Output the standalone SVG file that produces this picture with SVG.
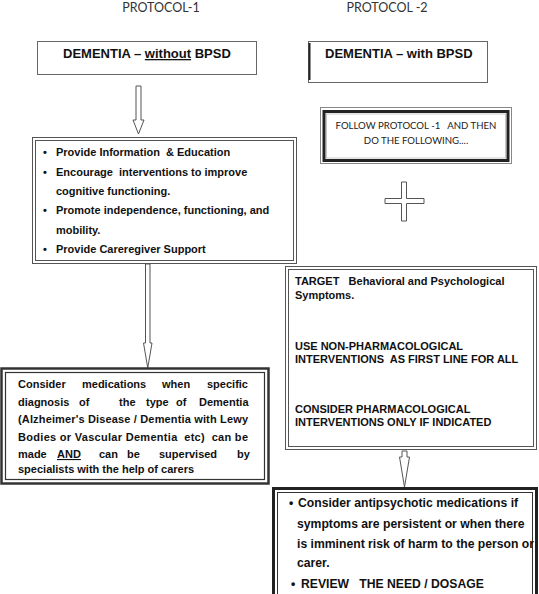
<svg xmlns="http://www.w3.org/2000/svg" width="539" height="594" viewBox="0 0 539 594">
<style>
.title{font-family:Lato,"Liberation Sans",sans-serif;font-size:12.5px;fill:#333}
.cal{font-family:Lato,"Liberation Sans",sans-serif;font-size:9.6px;fill:#222}
.b13{font-family:"Liberation Sans",Arial,sans-serif;font-weight:bold;font-size:13px;fill:#111}
.b11{font-family:"Liberation Sans",Arial,sans-serif;font-weight:bold;font-size:11px;fill:#111}
.b12{font-family:"Liberation Sans",Arial,sans-serif;font-weight:bold;font-size:12.2px;fill:#111}
.thin{fill:#fff;stroke:#666;stroke-width:1}
.dbl{fill:none;stroke:#555;stroke-width:1}
.arrow{fill:#fff;stroke:#555;stroke-width:1;stroke-linejoin:miter}
</style>
<rect width="539" height="594" fill="#fff"/>
<text class="title" x="161" y="12" text-anchor="middle">PROTOCOL-1</text>
<text class="title" x="387" y="12" text-anchor="middle">PROTOCOL -2</text>

<g id="connectors">
<polygon class="arrow" points="136,86 141,86 141,120 144,120 138.5,134 133,120 136,120"/>
<polygon class="arrow" points="145.5,264 150,264 150,343 152,343 147.75,368 143.5,343 145.5,343"/>
<polygon class="arrow" points="402,451 407,451 407,457 409.5,457 404.5,487 399.5,457 402,457"/>
<polygon class="arrow" points="401.5,182 406.5,182 406.5,198.5 424,198.5 424,203.5 406.5,203.5 406.5,221 401.5,221 401.5,203.5 385,203.5 385,198.5 401.5,198.5"/>
</g>

<g id="node-without-bpsd">
<rect class="thin" x="37.5" y="41.5" width="219" height="33"/>
<text class="b13" x="63" y="58">DEMENTIA – <tspan text-decoration="underline">without</tspan> BPSD</text>
</g>

<g id="node-with-bpsd">
<rect class="thin" x="308.5" y="41.5" width="179" height="41"/>
<line x1="309.5" y1="43" x2="309.5" y2="80" stroke="#222" stroke-width="2"/>
<text class="b13" x="325" y="58">DEMENTIA – with BPSD</text>
</g>

<g id="node-follow">
<rect x="320.5" y="107.5" width="191" height="56" fill="#fff" stroke="#888" stroke-width="1"/>
<rect x="324" y="111.5" width="184" height="49" fill="none" stroke="#222" stroke-width="3"/>
<rect x="326.5" y="114" width="179" height="44" fill="none" stroke="#bbb" stroke-width="0.8"/>
<text class="cal" x="416" y="128.5" text-anchor="middle" xml:space="preserve">FOLLOW PROTOCOL -1   AND THEN</text>
<text class="cal" x="416" y="143.5" text-anchor="middle">DO THE FOLLOWING....</text>
</g>

<g id="node-protocol1-steps">
<rect x="32.5" y="137.5" width="264" height="126" fill="#fff" stroke="#555"/>
<rect class="dbl" x="35.5" y="140.5" width="258" height="120"/>
<g class="b11">
<text x="43" y="156">•</text><text x="56" y="156" xml:space="preserve">Provide Information  &amp; Education</text>
<text x="43" y="175.5">•</text><text x="56" y="175.5" xml:space="preserve">Encourage  interventions to improve</text>
<text x="56" y="195">cognitive functioning.</text>
<text x="43" y="214">•</text><text x="56" y="214">Promote independence, functioning, and</text>
<text x="56" y="233.5">mobility.</text>
<text x="43" y="253">•</text><text x="56" y="253">Provide Careregiver Support</text>
</g>
</g>

<g id="node-medications">
<rect x="1.5" y="368.5" width="267" height="115" fill="#fff" stroke="#333" stroke-width="2.5"/>
<rect x="5.5" y="372.5" width="259" height="107" fill="none" stroke="#333" stroke-width="1.2"/>
<g class="b11">
<text y="388"><tspan x="18">Consider</tspan><tspan x="82">medications</tspan><tspan x="162">when</tspan><tspan x="207">specific</tspan></text>
<text y="406"><tspan x="18">diagnosis</tspan><tspan x="79">of</tspan><tspan x="119">the</tspan><tspan x="146">type</tspan><tspan x="176">of</tspan><tspan x="199">Dementia</tspan></text>
<text x="18" y="423" textLength="230" lengthAdjust="spacing">(Alzheimer's Disease / Dementia with Lewy</text>
<text x="18" y="441" textLength="230" lengthAdjust="spacing" xml:space="preserve">Bodies or Vascular Dementia  etc)  can be</text>
<text y="458"><tspan x="18">made</tspan><tspan x="57" text-decoration="underline">AND</tspan><tspan x="99">can</tspan><tspan x="127">be</tspan><tspan x="159">supervised</tspan><tspan x="237">by</tspan></text>
<text x="18" y="473">specialists with the help of carers</text>
</g>
</g>

<g id="node-target">
<rect x="285.5" y="266.5" width="251" height="183" fill="#fff" stroke="#555"/>
<rect class="dbl" x="288.5" y="269.5" width="245" height="177"/>
<g class="b11">
<text x="295" y="285" xml:space="preserve">TARGET   Behavioral and Psychological</text>
<text x="295" y="299">Symptoms.</text>
<text x="295" y="350">USE NON-PHARMACOLOGICAL</text>
<text x="295" y="363" xml:space="preserve">INTERVENTIONS  AS FIRST LINE FOR ALL</text>
<text x="295" y="413">CONSIDER PHARMACOLOGICAL</text>
<text x="295" y="426">INTERVENTIONS ONLY IF INDICATED</text>
</g>
</g>

<g id="node-antipsychotic">
<rect x="273.5" y="488.5" width="263" height="120" fill="#fff" stroke="#222" stroke-width="3"/>
<rect x="277.5" y="492.5" width="255" height="112" fill="none" stroke="#333" stroke-width="1"/>
<g class="b12">
<text x="289" y="507">•</text><text x="298" y="507">Consider antipsychotic medications if</text>
<text x="297" y="528">symptoms are persistent or when there</text>
<text x="297" y="548">is imminent risk of harm to the person or</text>
<text x="297" y="567">carer.</text>
<text x="291" y="588">•</text><text x="301" y="588" xml:space="preserve">REVIEW   THE NEED / DOSAGE</text>
</g>
</g>
</svg>
